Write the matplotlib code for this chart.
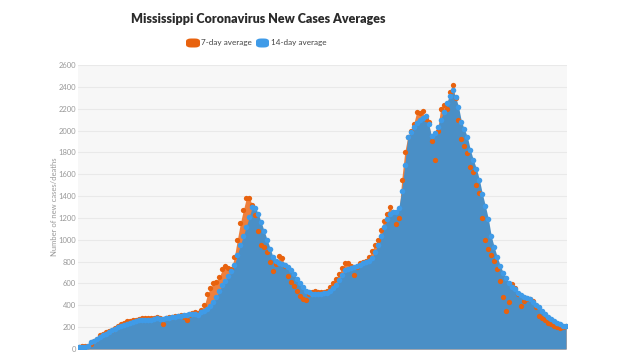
import numpy as np
import matplotlib
matplotlib.use("Agg")
import matplotlib.pyplot as plt
from matplotlib.patches import FancyBboxPatch

title = "Mississippi Coronavirus New Cases Averages"
series_names = ["7-day average", "14-day average"]
y_label = "Number of new cases/deaths"
y_ticks = list(range(0, 2601, 200))

avg14 = [
    15, 17, 20, 30, 60, 75, 92, 113, 128, 140,
    155, 170, 185, 200, 215, 224, 232, 240, 248, 255,
    261, 265, 265, 265, 270, 276, 280, 277, 278, 282,
    287, 292, 296, 300, 305, 310, 315, 320, 324, 318,
    312, 335, 352, 370, 390, 430, 475, 535, 585, 625,
    665, 710, 765, 860, 950, 1035, 1120, 1210, 1300, 1295,
    1240, 1160, 1080, 1000, 920, 840, 810, 785, 775, 765,
    752, 720, 685, 640, 600, 565, 535, 520, 503, 500,
    503, 507, 511, 515, 535, 562, 590, 635, 680, 720,
    730, 740, 748, 760, 772, 784, 792, 805, 830, 890,
    955, 1030, 1120, 1190, 1240, 1250, 1258, 1290, 1450, 1680,
    1940, 1985, 2030, 2070, 2095, 2115, 2130, 2060, 1950, 1980,
    2030, 2100, 2170, 2250, 2320, 2370, 2310, 2220, 2080, 2010,
    1940, 1820, 1730, 1650, 1550, 1420, 1310, 1190, 1030, 930,
    840, 760, 700, 650, 600, 570, 545, 515, 495, 480,
    468, 455, 430, 405, 380, 350, 320, 295, 275, 255,
    240, 228, 215, 211,
]

avg7 = [
    20, 25, 30, 30, 45, 70, 95, 125, 140, 152,
    165, 178, 195, 210, 225, 240, 252, 260, 265, 270,
    276, 280, 280, 280, 284, 288, 290, 283, 230, 280,
    290, 296, 300, 305, 310, 290, 265, 315, 332, 335,
    330, 360, 400, 500, 560, 600, 615, 660, 730, 760,
    740, 730, 840, 1000, 1150, 1270, 1380, 1385, 1320, 1230,
    1080, 955, 930, 890, 800, 717, 780, 850, 830, 760,
    670, 615, 575, 530, 487, 455, 450, 505, 525, 533,
    525, 520, 525, 533, 565, 600, 640, 690, 740, 790,
    785, 760, 680, 750, 785, 795, 810, 840, 900, 950,
    1000, 1090, 1170, 1240, 1300, 1250, 1140, 1200, 1550, 1800,
    1940, 2000, 2060, 2170, 2160, 2175, 2110, 2080, 1900, 1730,
    2000, 2200, 2230, 2200, 2350, 2420, 2300, 2100, 1920, 1860,
    1790, 1670, 1620, 1500, 1424, 1200, 1000, 920, 860, 810,
    730, 620, 480, 350, 430, 597, 560, 500, 395, 440,
    455, 460, 440, 380, 300, 280, 262, 240, 228, 215,
    205, 196, 200, 215,
]

n = min(len(avg7), len(avg14))
avg7 = np.array(avg7[:n], dtype=float)
avg14 = np.array(avg14[:n], dtype=float)
x = np.arange(n)

ORANGE = "#e8620e"
ORANGE_FILL = "#ee7f3c"
BLUE = "#3f9be8"
BLUE_FILL = "#4a8fc6"

fig = plt.figure(figsize=(6.22, 3.52), dpi=100)
fig.patch.set_facecolor("white")
ax = fig.add_axes([78/622, 3/352, (567-78)/622, (349-65)/352])
ax.set_facecolor("#f7f7f7")

ax.fill_between(x, 0, avg7, color=ORANGE_FILL, lw=0, zorder=2)
ax.fill_between(x, 0, avg14, color=BLUE_FILL, lw=0, zorder=3)
ax.plot(x, avg7, ls="none", marker="o", ms=3.8, color=ORANGE, mec="none", zorder=4)
ax.plot(x, avg14, ls="none", marker="o", ms=4.0, color=BLUE, mec="none", zorder=5)

ax.set_xlim(x[0] - 0.3, x[-1] + 0.3)
ax.set_ylim(0, 2600)
ax.set_yticks(y_ticks)
ax.set_yticklabels([str(t) for t in y_ticks], fontsize=5.5, color="#999999",
                   family=["Lato", "DejaVu Sans"])
ax.tick_params(axis="y", length=0, pad=1.5)
ax.tick_params(axis="x", length=0, labelbottom=False)
ax.grid(axis="y", color="#e9e9e9", lw=0.8, zorder=1)
ax.set_axisbelow(True)
for s in ax.spines.values():
    s.set_visible(False)

fig.text(54/622, 1 - 207/352, y_label, rotation=90, ha="center", va="center",
         fontsize=5.5, color="#999999", family=["Lato", "DejaVu Sans"])

fig.text(258/622, 1 - 19/352, title, ha="center", va="center", fontsize=9.0,
         fontweight="heavy", color="#2b2b2b", family=["Lato", "DejaVu Sans"])

# legend
ly = 1 - 43/352
for (px, w, col, tx, name) in [(186, 14, ORANGE, 201, series_names[0]),
                               (256, 13, BLUE, 271, series_names[1])]:
    p = FancyBboxPatch((px/622, ly - 4.5/352), w/622, 9/352,
                       boxstyle="round,pad=0,rounding_size=0.008",
                       transform=fig.transFigure, facecolor=col, edgecolor="none")
    fig.patches.append(p)
    fig.text(tx/622, ly, name, ha="left", va="center", fontsize=5.9,
             color="#444444", family=["Lato", "DejaVu Sans"])

fig.savefig("out.png", dpi=100)
